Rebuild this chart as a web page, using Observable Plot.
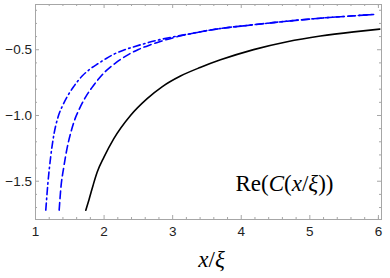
<!DOCTYPE html>
<html><head><meta charset="utf-8">
<script src="https://cdn.jsdelivr.net/npm/d3@7"></script>
<script src="https://cdn.jsdelivr.net/npm/@observablehq/plot@0.6"></script>
<style>body{margin:0;background:#fff} svg{display:block}</style>
</head><body><div id="chart"></div>
<script>
// ---- data ----
const blackX = [1.733, 1.78, 1.84, 1.90, 2.00, 2.14, 2.385, 2.628, 2.85, 3.114, 3.40, 3.697, 4.18, 4.67, 5.155, 5.64, 6.02];
const blackY = [-1.721, -1.64, -1.53, -1.43, -1.315, -1.178, -1.000, -0.872, -0.780, -0.700, -0.635, -0.577, -0.499, -0.439, -0.396, -0.364, -0.343];

const dashX = [1.345, 1.37, 1.41, 1.46, 1.52, 1.58, 1.64, 1.73, 1.82, 1.90, 2.02, 2.17, 2.36, 2.50, 2.66, 2.82, 3.00, 3.26, 3.60, 4.18, 4.67, 5.155, 5.64, 5.93];
const dashY = [-1.72, -1.55, -1.40, -1.25, -1.12, -1.02, -0.95, -0.86, -0.79, -0.735, -0.665, -0.600, -0.535, -0.498, -0.465, -0.437, -0.410, -0.378, -0.346, -0.31, -0.283, -0.26, -0.242, -0.232];

const dotDashX = [1.15, 1.18, 1.22, 1.27, 1.33, 1.40, 1.47, 1.55, 1.68, 1.80, 1.92, 2.02, 2.14, 2.30, 2.45, 2.60, 2.80, 3.00, 3.26, 3.60, 4.18, 4.67, 5.155, 5.64, 5.93];
const dotDashY = [-1.72, -1.52, -1.32, -1.14, -1.01, -0.92, -0.85, -0.785, -0.70, -0.645, -0.603, -0.570, -0.535, -0.500, -0.475, -0.452, -0.425, -0.403, -0.378, -0.346, -0.31, -0.283, -0.26, -0.242, -0.232];

const xTickValues = [1, 2, 3, 4, 5, 6];
const yTickValues = [-1.5, -1.0, -0.5];
const xMinorTicks = [1.2,1.4,1.6,1.8,2.2,2.4,2.6,2.8,3.2,3.4,3.6,3.8,4.2,4.4,4.6,4.8,5.2,5.4,5.6,5.8,6.0];
const yMinorTicks = [-1.7,-1.6,-1.4,-1.3,-1.2,-1.1,-0.9,-0.8,-0.7,-0.6,-0.4,-0.3,-0.2];
const xLabel = "x/ξ";
const curveLabel = "Re(C(x/ξ))";

// ---- layout ----
const W = 390, H = 278, mL = 35, mR = 9, mT = 4, mB = 59;
const innerW = W - mL - mR, innerH = H - mT - mB;
const tickColor = "#a6a6a6";

const toRows = (xs, ys) => xs.map((x, i) => ({x, y: ys[i]}));
const black = toRows(blackX, blackY);
const dashed = toRows(dashX, dashY);
const dotDashed = toRows(dotDashX, dotDashY);

const chart = Plot.plot({
  width: W, height: H,
  marginLeft: mL, marginRight: mR, marginTop: mT, marginBottom: mB,
  style: {background: "#fff", overflow: "visible"},
  x: {domain: [1, 6.045], label: null},
  y: {domain: [-1.791, -0.156], label: null},
  marks: [
    // inward ticks on all four sides
    Plot.ruleX(xTickValues, {x: d => d, insetTop: innerH - 4, stroke: tickColor}),
    Plot.ruleX(xMinorTicks, {x: d => d, insetTop: innerH - 2, stroke: tickColor}),
    Plot.ruleX(xTickValues, {x: d => d, insetBottom: innerH - 4, stroke: tickColor}),
    Plot.ruleX(xMinorTicks, {x: d => d, insetBottom: innerH - 2, stroke: tickColor}),
    Plot.ruleY(yTickValues, {y: d => d, insetRight: innerW - 4, stroke: tickColor}),
    Plot.ruleY(yMinorTicks, {y: d => d, insetRight: innerW - 2, stroke: tickColor}),
    Plot.ruleY(yTickValues, {y: d => d, insetLeft: innerW - 4, stroke: tickColor}),
    Plot.ruleY(yMinorTicks, {y: d => d, insetLeft: innerW - 2, stroke: tickColor}),
    Plot.frame({stroke: tickColor, strokeWidth: 1}),
    Plot.axisX(xTickValues, {tickSize: 0, tickPadding: 6.5, fontSize: 13.5, fill: "#222",
      fontFamily: "Liberation Sans", tickFormat: d => String(d), label: null}),
    Plot.axisY(yTickValues, {tickSize: 0, tickPadding: 3.5, fontSize: 13.5, fill: "#222",
      fontFamily: "Liberation Sans", tickFormat: d3.format(".1f"), label: null}),
    Plot.line(dotDashed, {x: "x", y: "y", stroke: "#0000ff", strokeWidth: 1.6,
      strokeDasharray: "7,3.5,1.5,3.5", curve: "monotone-x"}),
    Plot.line(dashed, {x: "x", y: "y", stroke: "#0000ff", strokeWidth: 1.6,
      strokeDasharray: "7.5,4", curve: "monotone-x"}),
    Plot.line(black, {x: "x", y: "y", stroke: "#000", strokeWidth: 1.6, curve: "monotone-x"}),
    Plot.text([curveLabel], {frameAnchor: "bottom-right", dx: -48, dy: -36, textAnchor: "end",
      lineAnchor: "middle", fontSize: 23, fontFamily: "Liberation Serif", fill: "#000",
      letterSpacing: "0.9px"}),
    Plot.text([xLabel], {frameAnchor: "bottom", dx: 3, dy: 40, lineAnchor: "middle",
      fontSize: 23, fontFamily: "Liberation Serif", fill: "#000", letterSpacing: "3px"})
  ]
});

// mixed upright/italic pieces, TeX style
function styleMath(svg, str, parts) {
  d3.select(svg).selectAll("text").filter(function () { return this.textContent === str; })
    .each(function () {
      const t = d3.select(this);
      t.text(null);
      parts.forEach(([s, it]) => t.append("tspan").attr("font-style", it ? "italic" : "normal").text(s));
    });
}
styleMath(chart, curveLabel, [["Re(", 0], ["C", 1], ["(", 0], ["x", 1], ["/", 0], ["ξ", 1], ["))", 0]]);
styleMath(chart, xLabel, [["x", 1], ["/", 0], ["ξ", 1]]);

document.getElementById("chart").append(chart);
</script>
</body></html>
